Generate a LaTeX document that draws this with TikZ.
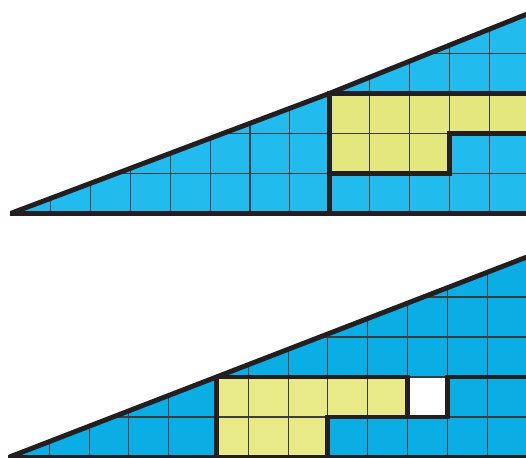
\documentclass[tikz,border=0pt]{standalone}
\definecolor{bluetop}{RGB}{33,187,237}
\definecolor{bluebot}{RGB}{10,174,228}
\definecolor{yellowtop}{RGB}{228,230,126}
\definecolor{yellowbot}{RGB}{232,234,136}
\definecolor{edgec}{RGB}{35,31,32}
\definecolor{gridc}{RGB}{60,60,60}
\begin{document}
\begin{tikzpicture}[
  heavy/.style={line width=3.5pt, draw=edgec, line join=miter},
  gridln/.style={line width=0.85pt, draw=gridc}
]
\useasboundingbox (0,0) rectangle (13.15,11.45);
\clip (0,0) rectangle (13.15,11.45);

% ---------- top figure ----------
\begin{scope}[xshift=0.2725cm,yshift=6.1175cm,x=0.99625cm,y=1cm]
  \fill[bluetop] (0,0) -- (8,3) -- (13,5) -- (13,0) -- cycle;
  \fill[yellowtop] (8,1) -- (11,1) -- (11,2) -- (13,2) -- (13,3) -- (8,3) -- cycle;
  \begin{scope}
    \clip (0,0) -- (8,3) -- (13,5) -- (13,0) -- cycle;
    \foreach \i in {1,...,12} \draw[gridln] (\i,0) -- (\i,5);
    \foreach \j in {1,...,4} \draw[gridln] (0,\j) -- (13,\j);
  \end{scope}
  \draw[heavy] (0,0) -- (8,3) -- (13,5);
  \draw[heavy] (-0.03,0) -- (13,0);
  \draw[heavy] (8,0) -- (8,3) -- (13,3);
  \draw[heavy] (8,1) -- (11,1) -- (11,2) -- (13,2);
\end{scope}

% ---------- bottom figure ----------
\begin{scope}[xshift=0.2375cm,yshift=0.025cm,x=0.995cm,y=1cm]
  \fill[bluebot] (0,0) -- (5.2,2) -- (13,5) -- (13,0) -- cycle;
  \fill[yellowbot] (5.2,0) -- (8,0) -- (8,1) -- (10,1) -- (10,2) -- (5.2,2) -- cycle;
  \fill[white] (10,1) rectangle (11,2);
  \begin{scope}
    \clip (0,0) -- (5.2,2) -- (13,5) -- (13,0) -- cycle;
    \foreach \i in {1,2,3,4,6,7,8,9,10,11,12} \draw[gridln] (\i,0) -- (\i,5);
    \foreach \j in {1,...,4} \draw[gridln] (0,\j) -- (13,\j);
  \end{scope}
  \draw[heavy] (0,0) -- (5.2,2) -- (13,5);
  \draw[heavy] (-0.03,0) -- (13,0);
  \draw[heavy] (5.2,0) -- (5.2,2) -- (10,2) -- (10,1);
  \draw[heavy] (8,0) -- (8,1) -- (11,1) -- (11,2) -- (13,2);
\end{scope}
\end{tikzpicture}
\end{document}
